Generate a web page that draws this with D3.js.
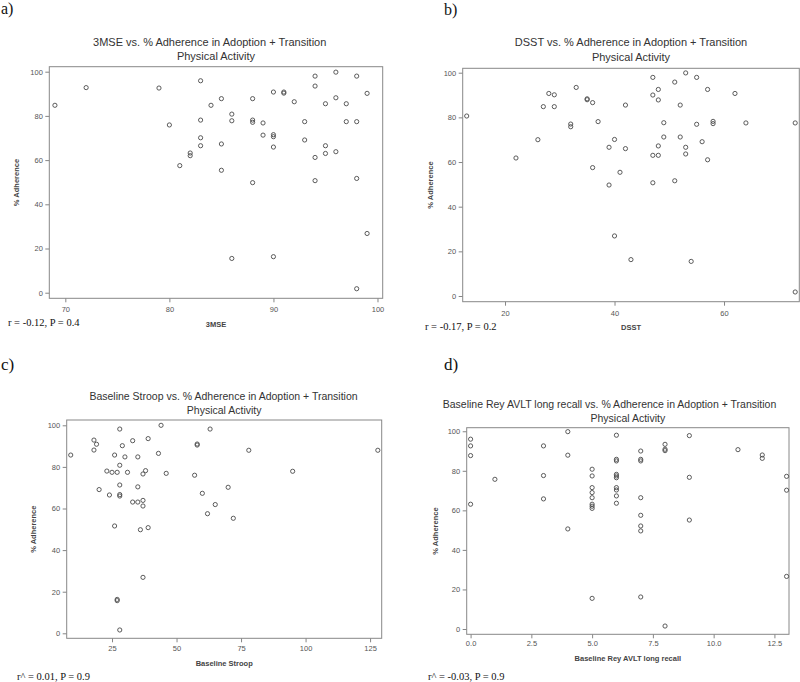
<!DOCTYPE html>
<html>
<head>
<meta charset="utf-8">
<script src="https://cdn.jsdelivr.net/npm/d3@7"></script>
<style>
  html, body { margin: 0; padding: 0; background: #fff; }
  svg { display: block; }
</style>
</head>
<body>
<svg id="chart" width="800" height="682"></svg>
<script>
// ---------- DATA ----------
const adherenceTicks = [0, 20, 40, 60, 80, 100];

// a) 3MSE
const mmseTicks = [70, 80, 90, 100];
const mmseX = [69,72,79,80,81,82,82,83,83,83,83,84,85,85,85,86,86,86,88,88,88,88,89,89,90,90,90,90,90,91,91,92,93,93,94,94,94,94,95,95,95,96,96,96,97,97,98,98,98,98,99,99];
const mmseY = [84.8,92.8,92.6,75.9,57.5,63.2,62.0,95.9,78.1,70.1,66.5,84.8,87.8,67.3,55.4,80.8,77.8,15.5,87.8,78.1,77.1,49.8,76.8,71.3,90.8,71.5,70.6,65.9,16.3,90.8,90.3,86.4,77.4,69.1,98.0,93.5,61.2,50.7,85.5,66.5,63.0,99.8,88.2,63.8,85.5,77.4,98.0,77.4,51.7,1.8,90.2,26.8];

// b) DSST
const dsstTicks = [20, 40, 60];
const dsstX = [13,22,26,27,28,29,29,32,32,33,35,35,36,36,37,39,39,40,40,41,42,42,43,47,47,47,47,48,48,48,48,49,49,51,51,52,52,53,53,53,54,55,55,56,57,57,58,58,62,64,73,73];
const dsstY = [80.6,61.8,70.0,84.8,90.7,90.1,84.8,77.0,75.8,93.4,88.3,87.9,86.6,57.5,78.1,66.6,49.7,70.1,26.9,55.4,66.0,85.5,16.3,97.9,90.0,63.0,50.7,92.5,87.8,67.2,63.0,77.6,71.2,95.8,51.6,85.5,71.2,99.9,66.6,63.6,15.5,97.9,76.9,69.1,92.5,61.0,78.2,77.2,90.7,77.5,77.5,1.8];

// c) Baseline Stroop
const stroopTicks = [25, 50, 75, 100, 125];
const stroopX = [9,18,19,18,20,23,24,25,26,26,27,27,27,28,28,28,28,28,28,29,30,31,33,33,35,35,35,36,37,37,37,37,38,39,39,43,44,46,57,58,58,60,62,63,65,70,72,78,95,128];
const stroopY = [85.7,92.9,90.9,88.1,69.1,78.0,66.5,77.4,85.7,51.6,77.4,16.3,15.7,98.2,80.8,71.3,66.7,66.0,1.6,90.2,84.8,77.4,92.6,63.1,84.8,70.4,63.1,49.8,76.6,63.9,61.2,26.9,78.2,93.6,50.8,86.5,100,76.9,76.0,91.0,90.5,67.3,57.5,98.2,61.9,70.2,55.3,88.0,77.9,88.0];

// d) Baseline Rey AVLT long recall
const reyTicks = [0, 2.5, 5, 7.5, 10, 12.5];
const reyX = [0,0,0,0,1,3,3,3,4,4,4,5,5,5,5,5,5,5,5,5,6,6,6,6,6,6,6,6,6,6,7,7,7,7,7,7,7,7,8,8,8,8,9,9,9,11,12,12,13,13,13];
const reyY = [96.0,92.6,87.7,63.1,75.7,92.6,77.6,65.8,99.8,87.9,50.6,80.8,77.4,71.5,69.0,66.4,63.1,62.1,61.0,15.5,98.0,85.8,85.0,78.2,77.4,76.5,71.5,70.3,67.3,63.6,90.0,85.8,85.0,66.4,57.5,52.1,49.6,16.2,93.4,90.9,90.2,1.5,97.8,76.7,55.1,90.7,88.0,86.3,77.2,70.2,26.6];

const panelLetters = ["a)", "b)", "c)", "d)"];
const titleLine1 = [
  "3MSE vs. % Adherence in Adoption + Transition",
  "DSST vs. % Adherence in Adoption + Transition",
  "Baseline Stroop vs. % Adherence in Adoption + Transition",
  "Baseline Rey AVLT long recall vs. % Adherence in Adoption + Transition"
];
const titleLine2 = "Physical Activity";
const xLabels = ["3MSE", "DSST", "Baseline Stroop", "Baseline Rey AVLT long recall"];
const yLabel = "% Adherence";
const statTexts = ["r = -0.12, P = 0.4", "r = -0.17, P = 0.2", "r^ = 0.01, P = 0.9", "r^ = -0.03, P = 0.9"];

// ---------- LAYOUT ----------
const SANS = "'Liberation Sans', Arial, Helvetica, sans-serif";
const SERIF = "'Liberation Serif', 'Times New Roman', serif";

const panels = [
  { x: mmseX, y: mmseY, xt: mmseTicks, fmt: d3.format("d"),
    xd: [68.46, 100.5], yd: [-2.53, 102.26],
    box: [49.3, 66.7, 382.7, 298.3],
    letter: [1, 13.5, 16], t1x: 209.7, t1y: 45.6, t2y: 60, xly: 326.5, ylx: 16,
    stat: [8, 326], tpad: 4 },
  { x: dsstX, y: dsstY, xt: dsstTicks, fmt: d3.format("d"),
    xd: [12.27, 73.75], yd: [-2.55, 101.97],
    box: [462.7, 68.3, 799.3, 301.7],
    letter: [444, 14.5, 16], t1x: 631, t1y: 46.3, t2y: 61.3, xly: 330, ylx: 430,
    stat: [425, 330], tpad: 4.5 },
  { x: stroopX, y: stroopY, xt: stroopTicks, fmt: d3.format("d"),
    xd: [7.44, 129.5], yd: [-2.4, 102.55],
    box: [66.7, 420, 381.7, 638.3],
    letter: [1, 369.5, 17], t1x: 223.5, t1y: 400, t2y: 414.3, xly: 666, ylx: 33.3,
    stat: [17, 680], tpad: 3.3 },
  { x: reyX, y: reyY, xt: reyTicks, fmt: d3.format(".1f"),
    xd: [-0.16, 13.1], yd: [-2.68, 101.8],
    box: [466.7, 427.7, 789, 634.3],
    letter: [444, 369.5, 17], t1x: 609.5, t1y: 408, t2y: 422, xly: 661, ylx: 435,
    stat: [428, 680], tpad: 2.5 }
];

const svg = d3.select("#chart");

panels.forEach((p, i) => {
  const [x0, y0, x1, y1] = p.box;
  const xs = d3.scaleLinear().domain(p.xd).range([x0, x1]);
  const ys = d3.scaleLinear().domain(p.yd).range([y1, y0]);
  const g = svg.append("g");

  // panel letter
  g.append("text").attr("x", p.letter[0]).attr("y", p.letter[1])
    .attr("font-family", SERIF).attr("font-size", p.letter[2]).attr("fill", "#111")
    .text(panelLetters[i]);

  // titles
  g.append("text").attr("x", p.t1x).attr("y", p.t1y).attr("text-anchor", "middle")
    .attr("font-family", SANS).attr("font-size", i < 2 ? 11 : 10.5).attr("fill", "#333")
    .text(titleLine1[i]);
  g.append("text").attr("x", (x0 + x1) / 2).attr("y", p.t2y).attr("text-anchor", "middle")
    .attr("font-family", SANS).attr("font-size", i < 2 ? 11 : 10.5).attr("fill", "#333")
    .text(titleLine2);

  // axes
  const xAxis = d3.axisBottom(xs).tickValues(p.xt).tickFormat(p.fmt).tickSize(4).tickPadding(p.tpad);
  const yAxis = d3.axisLeft(ys).tickValues(adherenceTicks).tickFormat(d3.format("d")).tickSize(4).tickPadding(2.5);

  const gx = g.append("g").attr("transform", `translate(0,${y1})`).call(xAxis);
  const gy = g.append("g").attr("transform", `translate(${x0},0)`).call(yAxis);
  [gx, gy].forEach(ax => {
    ax.select(".domain").remove();
    ax.selectAll(".tick line").attr("stroke", "#777").attr("stroke-width", 0.9);
    ax.selectAll(".tick text").attr("fill", "#555").attr("font-family", SANS).attr("font-size", 7.5);
  });

  // frame
  g.append("rect").attr("x", x0).attr("y", y0).attr("width", x1 - x0).attr("height", y1 - y0)
    .attr("fill", "none").attr("stroke", "#888").attr("stroke-width", 1);

  // axis labels
  g.append("text").attr("x", (x0 + x1) / 2).attr("y", p.xly).attr("text-anchor", "middle")
    .attr("font-family", SANS).attr("font-size", 7.5).attr("font-weight", "bold").attr("fill", "#444")
    .text(xLabels[i]);
  g.append("text").attr("transform", `translate(${p.ylx},${(y0 + y1) / 2}) rotate(-90)`)
    .attr("dy", "0.35em").attr("text-anchor", "middle")
    .attr("font-family", SANS).attr("font-size", 7.5).attr("font-weight", "bold").attr("fill", "#444")
    .text(yLabel);

  // stat text
  g.append("text").attr("x", p.stat[0]).attr("y", p.stat[1])
    .attr("font-family", SERIF).attr("font-size", 10.5).attr("fill", "#111")
    .text(statTexts[i]);

  // points
  const pts = p.x.map((v, k) => [v, p.y[k]]);
  g.append("g").selectAll("circle").data(pts).join("circle")
    .attr("cx", d => xs(d[0])).attr("cy", d => ys(d[1])).attr("r", 2.1)
    .attr("fill", "none").attr("stroke", "#4a4a4a").attr("stroke-width", 0.9);
});
</script>
</body>
</html>
